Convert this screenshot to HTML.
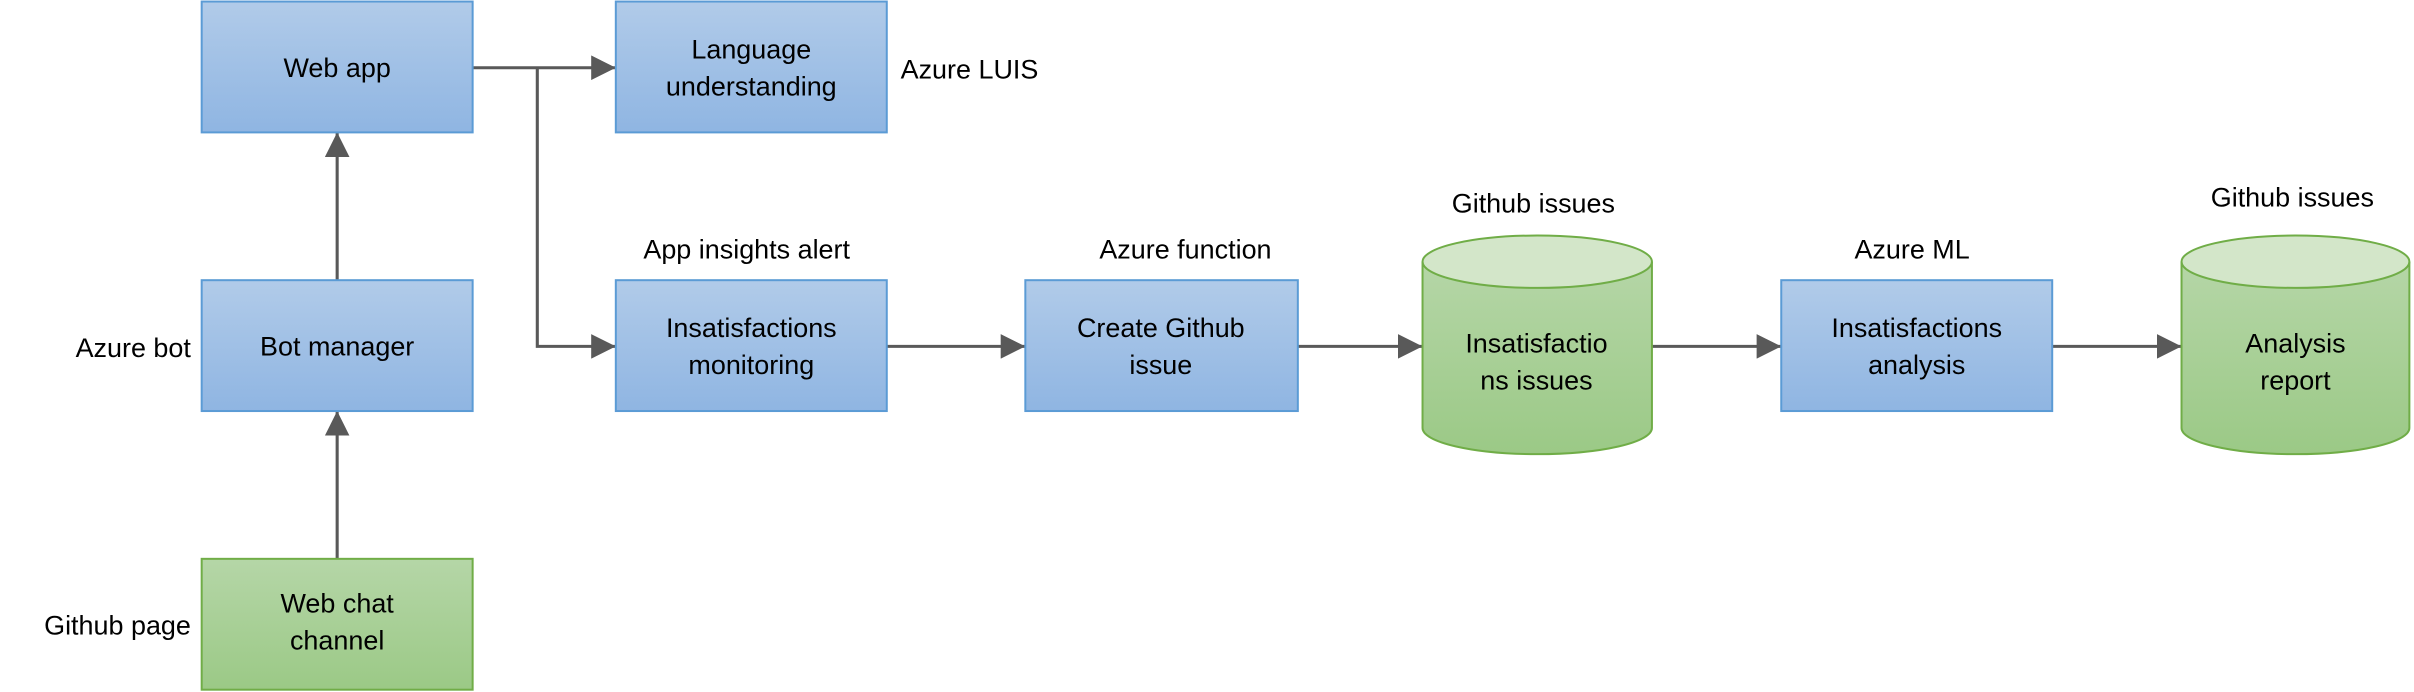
<!DOCTYPE html>
<html><head><style>html,body{margin:0;padding:0;background:#fff;}svg{display:block;}</style></head>
<body>
<svg width="2414" height="692" viewBox="0 0 1568 449.5" preserveAspectRatio="none" xmlns="http://www.w3.org/2000/svg" font-family="Liberation Sans, sans-serif" font-size="17.5">
<defs>
<linearGradient id="bl" x1="0" y1="0" x2="0" y2="1"><stop offset="0" stop-color="#b1cbe9"/><stop offset="1" stop-color="#8fb5e2"/></linearGradient>
<linearGradient id="gr" x1="0" y1="0" x2="0" y2="1"><stop offset="0" stop-color="#b5d6a7"/><stop offset="1" stop-color="#9bc986"/></linearGradient>
<marker id="ah" viewBox="0 0 16 16" refX="16" refY="8" markerWidth="16" markerHeight="16" orient="auto" markerUnits="userSpaceOnUse"><path d="M0,0 L16,8 L0,16 z" fill="#595959"/></marker>
</defs>
<g stroke="#595959" stroke-width="2" fill="none">
<path d="M307,44 H400" marker-end="url(#ah)"/>
<path d="M349,44 V225 H400" marker-end="url(#ah)"/>
<path d="M219,182 V86" marker-end="url(#ah)"/>
<path d="M219,363 V267" marker-end="url(#ah)"/>
<path d="M576,225 H666" marker-end="url(#ah)"/>
<path d="M843,225 H924" marker-end="url(#ah)"/>
<path d="M1073,225 H1157" marker-end="url(#ah)"/>
<path d="M1333,225 H1417" marker-end="url(#ah)"/>
</g>
<g stroke="#5b9bd5" stroke-width="1.3" fill="url(#bl)">
<rect x="131" y="1" width="176" height="85"/>
<rect x="400" y="1" width="176" height="85"/>
<rect x="131" y="182" width="176" height="85"/>
<rect x="400" y="182" width="176" height="85"/>
<rect x="666" y="182" width="177" height="85"/>
<rect x="1157" y="182" width="176" height="85"/>
</g>
<rect x="131" y="363" width="176" height="85" stroke="#70ad47" stroke-width="1.3" fill="url(#gr)"/>
<g stroke="#70ad47" stroke-width="1.3">
<path d="M924,170 V278 A74.5,17 0 0 0 1073,278 V170" fill="url(#gr)"/>
<ellipse cx="998.5" cy="170" rx="74.5" ry="17" fill="#d3e6c9"/>
<path d="M1417,170 V278 A74,17 0 0 0 1565,278 V170" fill="url(#gr)"/>
<ellipse cx="1491" cy="170" rx="74" ry="17" fill="#d3e6c9"/>
</g>
<g fill="#000" text-anchor="middle">
<text x="219" y="50">Web app</text>
<text x="488" y="38">Language</text>
<text x="488" y="62">understanding</text>
<text x="219" y="231">Bot manager</text>
<text x="219" y="398">Web chat</text>
<text x="219" y="422">channel</text>
<text x="488" y="219">Insatisfactions</text>
<text x="488" y="243">monitoring</text>
<text x="754" y="219">Create Github</text>
<text x="754" y="243">issue</text>
<text x="998" y="229">Insatisfactio</text>
<text x="998" y="253">ns issues</text>
<text x="1245" y="219">Insatisfactions</text>
<text x="1245" y="243">analysis</text>
<text x="1491" y="229">Analysis</text>
<text x="1491" y="253">report</text>
<text x="485" y="168">App insights alert</text>
<text x="770" y="168">Azure function</text>
<text x="996" y="138">Github issues</text>
<text x="1242" y="168">Azure ML</text>
<text x="1489" y="134">Github issues</text>
</g>
<g fill="#000">
<text x="585" y="51">Azure LUIS</text>
<text x="124" y="232" text-anchor="end">Azure bot</text>
<text x="124" y="412" text-anchor="end">Github page</text>
</g>
</svg>
</body></html>
